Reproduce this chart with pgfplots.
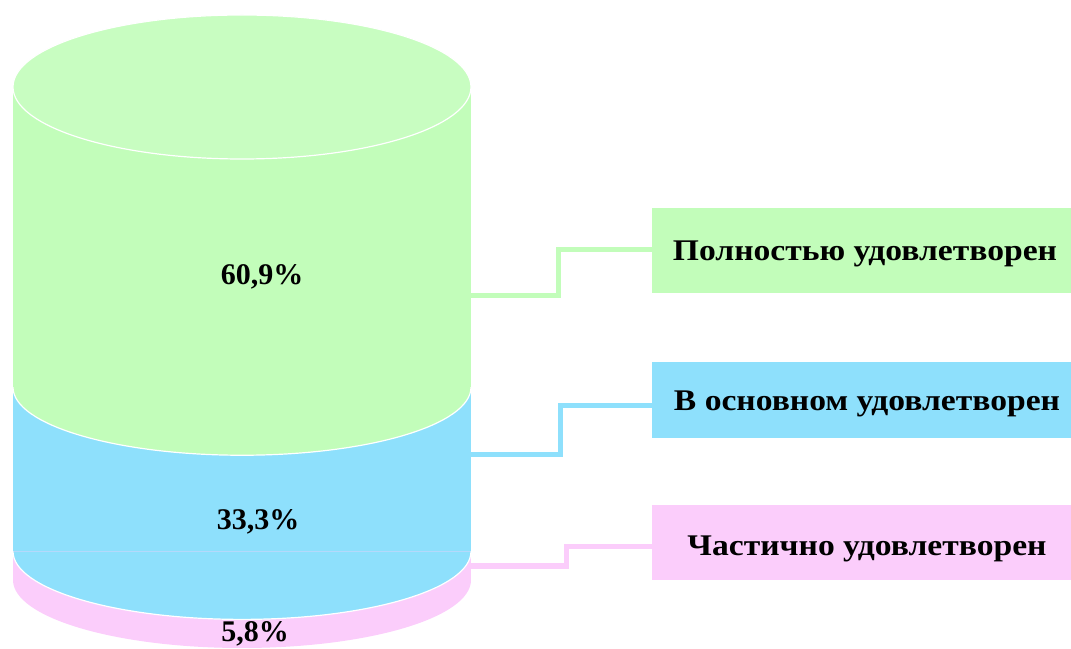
\documentclass[border=0pt]{standalone}
\usepackage{fontspec}
\setmainfont{Liberation Serif}
\usepackage{graphicx}
\usepackage{pgfplots}
\pgfplotsset{compat=1.18}
\definecolor{cgreen}{HTML}{C2FDBA}
\definecolor{cblue}{HTML}{8EE0FC}
\definecolor{cpink}{HTML}{FBCDFB}
\newcommand\lab[1]{\scalebox{1.12}[1]{#1}}
\begin{document}
\begin{tikzpicture}
\begin{axis}[
  width=1071pt, height=648pt, scale only axis,
  xmin=0, xmax=1071, ymin=-13.7931, ymax=117.6471,
  hide axis, clip=false,
  ybar stacked, bar width=458pt,
]
\addplot[fill=cpink, draw=none] coordinates {(242,5.8)};
\addplot[fill=cblue, draw=none] coordinates {(242,33.3)};
\addplot[fill=cgreen, draw=none] coordinates {(242,60.9)};
\end{axis}
\begin{scope}[shift={(current axis.north west)}, x=1pt, y=-1pt]
% cylinder curvature (y_px = 580 - 4.93*cumulative percent)
\fill[cpink] (13,580) arc[start angle=180,end angle=360,x radius=229pt,y radius=68pt] -- cycle;
\fill[cblue] (13,{580-4.93*5.8}) arc[start angle=180,end angle=360,x radius=229pt,y radius=68pt] -- cycle;
\draw[white, line width=1.2pt] (13,{580-4.93*5.8}) arc[start angle=180,end angle=360,x radius=229pt,y radius=68pt];
\fill[cgreen] (13,{580-4.93*39.1}) arc[start angle=180,end angle=360,x radius=229pt,y radius=68pt] -- cycle;
\draw[white, line width=1.2pt] (13,{580-4.93*39.1}) arc[start angle=180,end angle=360,x radius=229pt,y radius=68pt];
\filldraw[fill=cgreen!90!white, draw=white, line width=1.2pt] (242,87) ellipse [x radius=229pt, y radius=72pt];
% value labels
\node[font=\bfseries\fontsize{30}{34}\selectfont] at (262,277) {60,9\%};
\node[font=\bfseries\fontsize{30}{34}\selectfont] at (258,522) {33,3\%};
\node[font=\bfseries\fontsize{30}{34}\selectfont] at (255,634) {5,8\%};
% connectors
\draw[cgreen, line width=5pt, line join=miter] (471,296) -- (558,296) -- (558,250) -- (655,250);
\draw[cblue, line width=5pt, line join=miter] (471,455) -- (560,455) -- (560,406) -- (655,406);
\draw[cpink, line width=5pt, line join=miter] (471,566) -- (566,566) -- (566,547) -- (655,547);
% boxes
\fill[cgreen] (652,208) rectangle (1071,293);
\fill[cblue] (652,362) rectangle (1071,438);
\fill[cpink] (652,505) rectangle (1071,580);
\node[font=\bfseries\fontsize{30}{34}\selectfont] at (865,254) {\lab{Полностью удовлетворен}};
\node[font=\bfseries\fontsize{30}{34}\selectfont] at (867,404) {\lab{В основном удовлетворен}};
\node[font=\bfseries\fontsize{30}{34}\selectfont] at (867,549) {\lab{Частично удовлетворен}};
\end{scope}
\pgfresetboundingbox
\useasboundingbox (current axis.south west) rectangle (current axis.north east);
\end{tikzpicture}
\end{document}
